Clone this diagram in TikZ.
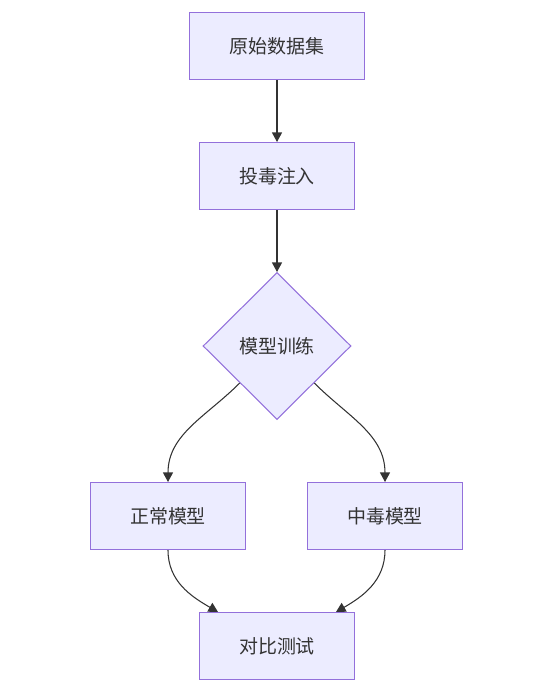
\documentclass[tikz,border=0pt]{standalone}
\usepackage{fontspec}
\setmainfont{Noto Sans CJK SC}
\usepackage{xcolor}
\usepackage{tikz}
\usetikzlibrary{arrows.meta,positioning,shapes.geometric}
\definecolor{nodefill}{HTML}{ECECFF}
\definecolor{nodeline}{HTML}{9370DB}
\definecolor{ink}{HTML}{333333}

\begin{document}
\begin{tikzpicture}[
  x=0.02cm,y=0.02cm,
  font=\fontsize{10.8}{13}\selectfont,
  text=ink,
  box/.style={draw=nodeline, fill=nodefill, line width=0.6pt, align=center, minimum height=1.34cm, minimum width=3.1cm, inner sep=2pt},
  decision/.style={diamond, draw=nodeline, fill=nodefill, line width=0.6pt, minimum width=2.96cm, minimum height=2.94cm, inner sep=0pt},
  arrow/.style={-{Triangle[length=0.19cm,width=0.2cm]}, draw=ink, line width=0.6pt}
]
\useasboundingbox (0,0) rectangle (554,-686);

% Pipeline.
\node[box, minimum width=3.5cm] (data) at (277,-46) {原始数据集};
\node[box] (poison) at (277,-176) {投毒注入};
\node[decision] (train) at (277,-346) {模型训练};
\node[box] (normal) at (168,-516) {正常模型};
\node[box] (bad) at (385,-516) {中毒模型};
\node[box] (test) at (277,-646) {对比测试};

\draw[arrow] (data) -- (poison);
\draw[arrow] (poison) -- (train);
\draw[arrow] (train.south west) to[out=-135,in=90] (normal.north);
\draw[arrow] (train.south east) to[out=-45,in=90] (bad.north);
\draw[arrow] (normal.south) to[out=-90,in=150] ([xshift=-1.18cm]test.north);
\draw[arrow] (bad.south) to[out=-90,in=30] ([xshift=1.18cm]test.north);
\end{tikzpicture}
\end{document}
